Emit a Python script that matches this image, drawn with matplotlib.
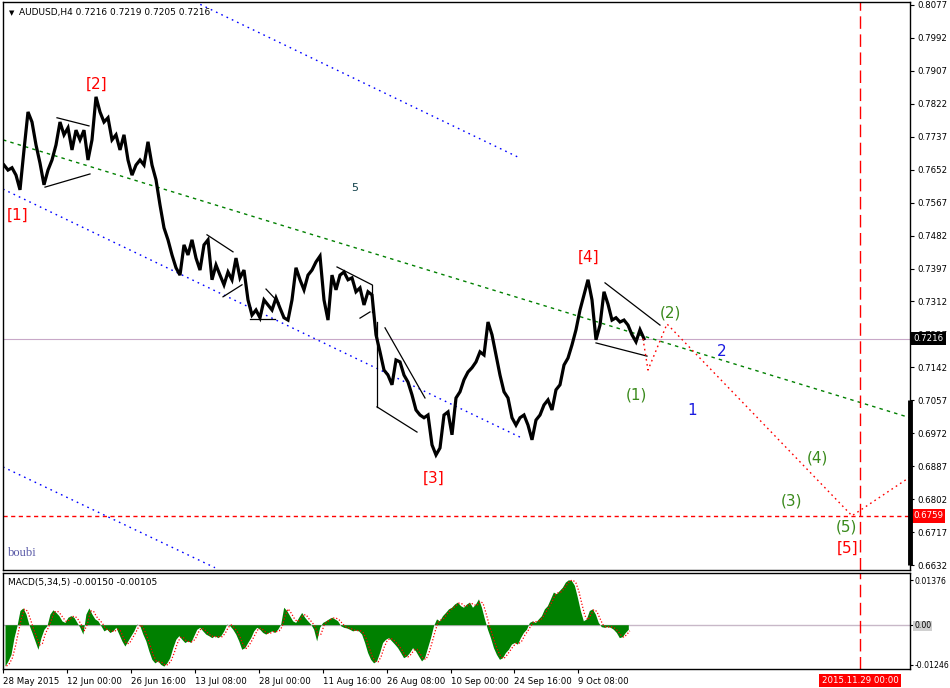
import numpy as np
import pandas as pd
import matplotlib
matplotlib.use("Agg")
import matplotlib.pyplot as plt
import matplotlib.transforms as mtransforms

plt.rcParams['font.family'] = ['DejaVu Sans']

# ---------------- data ----------------
close_step = 4  # one sample every 4 H4 bars
closes = [
    0.7664, 0.7651, 0.7657, 0.7638, 0.7600, 0.7703, 0.7801, 0.7775, 0.7716, 0.7669,
    0.7613, 0.7651, 0.7677, 0.7716, 0.7775, 0.7742, 0.7760, 0.7703, 0.7754, 0.7729,
    0.7754, 0.7677, 0.7729, 0.7840, 0.7801, 0.7775, 0.7786, 0.7729, 0.7742, 0.7703,
    0.7742, 0.7677, 0.7638, 0.7664, 0.7677, 0.7664, 0.7724, 0.7664, 0.7626, 0.7561,
    0.7502, 0.7471, 0.7432, 0.7399, 0.7380, 0.7458, 0.7432, 0.7471, 0.7424, 0.7393,
    0.7458, 0.7471, 0.7368, 0.7406, 0.7380, 0.7355, 0.7388, 0.7368, 0.7424, 0.7373,
    0.7393, 0.7316, 0.7277, 0.7290, 0.7270, 0.7316, 0.7303, 0.7290, 0.7321, 0.7295,
    0.7270, 0.7264, 0.7316, 0.7399, 0.7368, 0.7342, 0.7380, 0.7393, 0.7414, 0.7429,
    0.7316, 0.7264, 0.7380, 0.7342, 0.7380, 0.7388, 0.7368, 0.7373, 0.7337, 0.7347,
    0.7303, 0.7337, 0.7329, 0.7226, 0.7182, 0.7135, 0.7122, 0.7097, 0.7161, 0.7156,
    0.7122, 0.7104, 0.7071, 0.7032, 0.7019, 0.7012, 0.7019, 0.6942, 0.6916, 0.6934,
    0.7019, 0.7027, 0.6968, 0.7063, 0.7079, 0.7110, 0.7130, 0.7141, 0.7156, 0.7182,
    0.7174, 0.7259, 0.7226, 0.7174, 0.7122, 0.7079, 0.7063, 0.7012, 0.6993, 0.7012,
    0.7019, 0.6993, 0.6955, 0.7006, 0.7019, 0.7045, 0.7058, 0.7032, 0.7084, 0.7097,
    0.7148, 0.7166, 0.7200, 0.7239, 0.7290, 0.7329, 0.7368, 0.7316, 0.7213, 0.7251,
    0.7337, 0.7305, 0.7264, 0.7270, 0.7259, 0.7264, 0.7251, 0.7226, 0.7208, 0.7239,
    0.7216,
]

macd_step = 3  # one sample every 3 bars, MACD(5,34,5) in units of 1e-4
macd_e4 = [
    -128, -112, -92, -40, -3, 44, 52, 33, 0, -24, -50, -76, -40, -14, -3, 33, 46, 38, 28, 12,
    7, 23, 28, 23, 7, -8, -29, 33, 52, 33, 18, 12, -3, -19, -14, -24, -19, -8, -29, -50,
    -66, -50, -34, -19, 2, -3, -29, -50, -81, -107, -118, -112, -123, -128, -118, -102, -71, -45, -34, -45,
    -55, -50, -55, -34, -14, -8, -19, -29, -34, -40, -34, -40, -34, -19, 2, -3, -14, -29, -50, -76,
    -71, -55, -40, -19, -8, -14, -24, -29, -24, -19, -24, -14, 2, 54, 44, 28, 12, 7, 23, 38,
    23, 12, 2, -14, -50, -8, 7, 12, 18, 23, 18, 12, -3, -8, -10, -14, -19, -17, -19, -29,
    -55, -86, -107, -118, -112, -86, -55, -45, -40, -50, -60, -71, -86, -102, -97, -86, -71, -81, -97, -112,
    -102, -71, -40, -3, 18, 12, 28, 38, 49, 54, 64, 70, 59, 54, 64, 70, 54, 64, 80, 54,
    18, -14, -40, -71, -92, -107, -102, -86, -76, -60, -55, -60, -40, -24, -14, 7, 12, 7, 18, 28,
    49, 59, 80, 101, 96, 106, 116, 132, 139, 137, 122, 85, 44, 12, 18, 44, 49, 33, 7, -6,
    -8, -6, -8, -14, -24, -40, -37, -24, -14,
]

price_ticks = [0.8077, 0.7992, 0.7907, 0.7822, 0.7737, 0.7652, 0.7567, 0.7482, 0.7397,
               0.7312, 0.7227, 0.7142, 0.7057, 0.6972, 0.6887, 0.6802, 0.6717, 0.6632]
date_labels = ['28 May 2015', '12 Jun 00:00', '26 Jun 16:00', '13 Jul 08:00', '28 Jul 00:00',
               '11 Aug 16:00', '26 Aug 08:00', '10 Sep 00:00', '24 Sep 16:00', '9 Oct 08:00']
date_bars = [-2, 62, 126, 190, 254, 318, 382, 446, 510, 574]
future_bar = 856
future_label = '2015.11.29 00:00'
bid_price = 0.7216
target_price = 0.6759
macd_ticks = [0.01376, 0.0, -0.01246]
macd_tick_labels = ['0.01376', '0.00', '-0.01246']

# trend lines (bar, price) pairs
blue_channel = [
    ([191, 516], [0.8085, 0.7682]),
    ([-1, 516], [0.7602, 0.6962]),
    ([-1, 211], [0.6885, 0.6625]),
]
green_line = ([-1, 906], [0.7729, 0.7012])
wedge_lines = [
    ([53, 85], [0.7786, 0.7765]), ([41, 86], [0.7607, 0.7641]),
    ([203, 229], [0.7484, 0.7440]), ([219, 238], [0.7324, 0.7355]),
    ([246, 271], [0.7267, 0.7267]), ([262, 275], [0.7344, 0.7308]),
    ([333, 368], [0.7401, 0.7355]), ([368, 368], [0.7355, 0.7285]), ([356, 366], [0.7269, 0.7285]),
    ([373, 373], [0.7259, 0.7040]), ([373, 413], [0.7040, 0.6975]), ([381, 421], [0.7244, 0.7063]),
    ([601, 656], [0.7360, 0.7251]), ([592, 643], [0.7205, 0.7171]),
]
projection_bars = [639, 644, 663, 848, 906]
projection_prices = [0.7216, 0.7135, 0.7254, 0.6759, 0.6859]

red_labels = [('[1]', 14, 0.7535), ('[2]', 93, 0.7873), ('[3]', 430, 0.6857),
              ('[4]', 585, 0.7427), ('[5]', 844, 0.6676)]
green_labels = [('(1)', 632, 0.7071), ('(2)', 666, 0.7282), ('(3)', 787, 0.6797),
                ('(4)', 813, 0.6908), ('(5)', 842, 0.6730)]
blue_labels = [('1', 688, 0.7030), ('2', 718, 0.7184)]

# ---------------- figure ----------------
W, H = 950, 688
fs = 6.2
fig = plt.figure(figsize=(W / 100, H / 100), dpi=100)
fig.patch.set_facecolor('white')
ax = fig.add_axes([3 / W, 1 - 570 / H, 907 / W, 568 / H])
axm = fig.add_axes([3 / W, 1 - 669 / H, 907 / W, 96 / H])

xlim = (-1, 906)
for a in (ax, axm):
    a.set_xlim(*xlim)
    a.set_facecolor('white')
    for s in a.spines.values():
        s.set_color('black')
        s.set_linewidth(1)

ax.set_ylim(0.66191, 0.80847)

# horizontal bid line and target line
ax.axhline(bid_price, color='#c8a8c8', lw=0.8, zorder=1)
ax.axhline(target_price, color='#ff0000', lw=1, ls=(0, (3, 2.5)), zorder=1)

# channels
for xs, ys in blue_channel:
    ax.plot(xs, ys, color='#0000ff', lw=1, ls=(0, (1.2, 3)), zorder=2)
ax.plot(green_line[0], green_line[1], color='#008000', lw=1, ls=(0, (2.5, 3)), zorder=2)

# price
bars = np.arange(len(closes)) * close_step
ax.plot(bars, closes, color='black', lw=2.3, zorder=3, solid_joinstyle='miter')

# wedges
for xs, ys in wedge_lines:
    ax.plot(xs, ys, color='black', lw=0.9, zorder=3)

# projection
ax.plot(projection_bars, projection_prices, color='#ff0000', lw=1, ls=(0, (1.2, 2.5)), zorder=3)

# future vertical line
for a in (ax, axm):
    a.axvline(future_bar, color='#ff0000', lw=1, ls=(0, (9, 4)), zorder=2)

# labels
for t, b, p in red_labels:
    ax.text(b, p, t, color='#ff0000', fontsize=11, ha='center', va='center', zorder=5)
for t, b, p in green_labels:
    ax.text(b, p, t, color='#3a8a1c', fontsize=11, ha='center', va='center', zorder=5)
for t, b, p in blue_labels:
    ax.text(b, p, t, color='#1a1ae0', fontsize=11, ha='center', va='center', zorder=5)
ax.text(351, 0.7605, '5', color='#10404a', fontsize=8, ha='center', va='center')
ax.text(5 / 907, 0.02, 'boubi', transform=ax.transAxes, color='#5a5aa8',
        fontsize=9, family=['Liberation Serif'], ha='left', va='bottom')

ax.text(6 / 907, 1 - 11 / 568, '\u25BC', transform=ax.transAxes, fontsize=5,
        ha='left', va='center', color='black')
ax.text(16 / 907, 1 - 11 / 568, 'AUDUSD,H4 0.7216 0.7219 0.7205 0.7216', transform=ax.transAxes,
        fontsize=fs + 0.3, ha='left', va='center', color='black')

# right price axis
ax.yaxis.tick_right()
ax.set_yticks(price_ticks)
ax.set_yticklabels([f'{v:.4f}' for v in price_ticks])
ax.tick_params(axis='y', direction='out', length=3, width=0.8, labelsize=fs, pad=2, colors='black')
ax.set_xticks([])
trans = mtransforms.blended_transform_factory(ax.transAxes, ax.transData)
ax.text(1.0035, bid_price, f'{bid_price:.4f}', transform=trans, fontsize=fs, color='white',
        ha='left', va='center', bbox=dict(fc='black', ec='none', pad=1.6), zorder=10, clip_on=False)
ax.text(1.0035, target_price, f'{target_price:.4f}', transform=trans, fontsize=fs, color='white',
        ha='left', va='center', bbox=dict(fc='#ff0000', ec='none', pad=1.6), zorder=10, clip_on=False)
ax.plot([1, 1], [5 / 568, 170 / 568], transform=ax.transAxes, color='black', lw=3.5,
        clip_on=False, solid_capstyle='butt', zorder=10)

# ---------------- MACD ----------------
macd = np.array(macd_e4) * 1e-4
mx = np.arange(len(macd)) * macd_step
signal = pd.Series(macd).rolling(2, min_periods=1).mean().to_numpy()
axm.set_ylim(-0.0137, 0.0160)
axm.axhline(0, color='#c8b8c8', lw=1, zorder=1)
axm.fill_between(mx, 0, macd, color='#008000', lw=0, zorder=2)
axm.plot(mx + 1.5, signal, color='#ff0000', lw=0.9, ls=(0, (1, 1.5)), zorder=3)
axm.text(5 / 907, 1 - 9 / 96, 'MACD(5,34,5) -0.00150 -0.00105', transform=axm.transAxes,
         fontsize=fs + 0.3, ha='left', va='center')
axm.yaxis.tick_right()
axm.set_yticks(macd_ticks)
axm.set_yticklabels(macd_tick_labels)
axm.tick_params(axis='y', direction='out', length=2, width=0.8, labelsize=5.6, pad=1)
axm.get_yticklabels()[1].set_bbox(dict(fc='#d0d0d0', ec='none', pad=0.5))
axm.set_xticks(date_bars)
axm.set_xticklabels(date_labels, ha='left')
axm.tick_params(axis='x', direction='out', length=3, width=0.8, labelsize=fs, pad=3)
tr2 = mtransforms.blended_transform_factory(axm.transData, axm.transAxes)
axm.text(future_bar, -0.118, future_label, transform=tr2, fontsize=fs, color='white',
         ha='center', va='center', bbox=dict(fc='#ff0000', ec='none', pad=1.6), clip_on=False)

fig.savefig('out.png', dpi=100)
